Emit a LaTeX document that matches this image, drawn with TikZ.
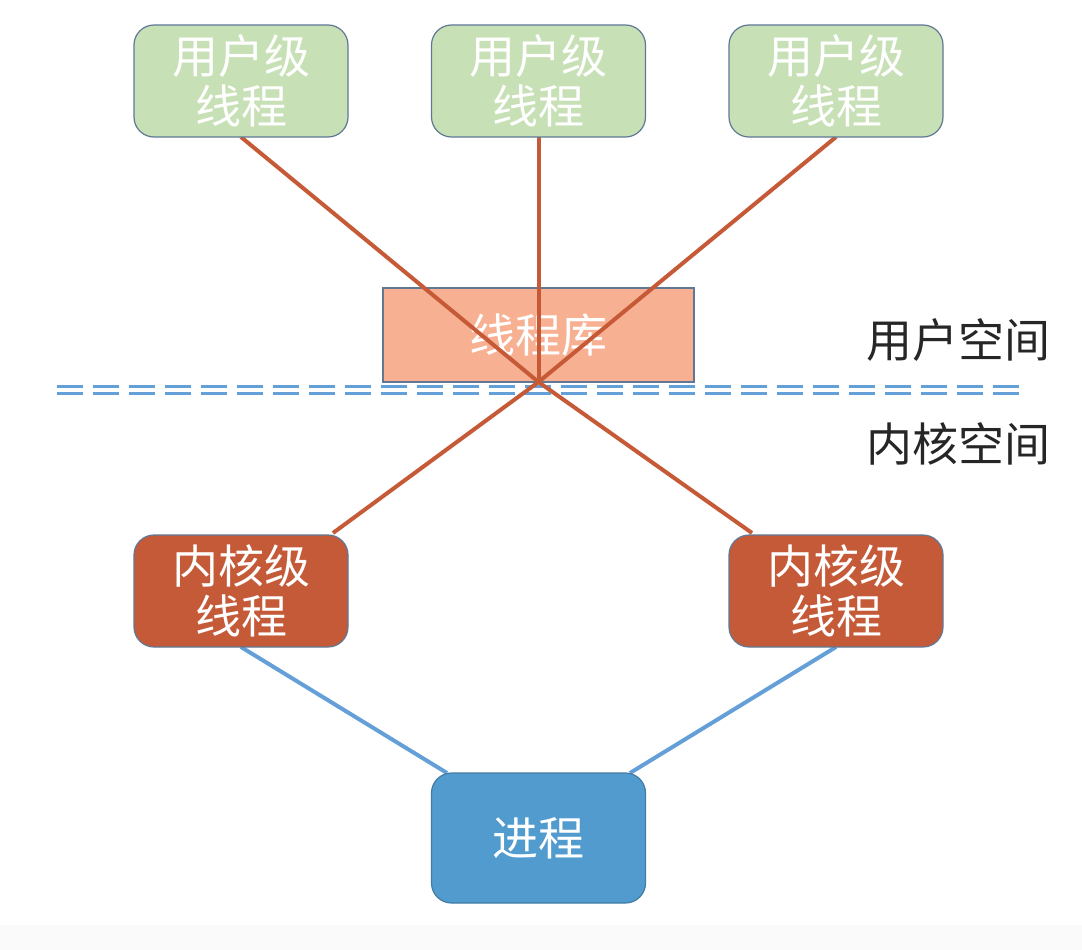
\documentclass[tikz,border=0pt]{standalone}
\usepackage{fontspec}
\setmainfont{Noto Sans CJK SC}
\definecolor{ugreen}{RGB}{199,224,182}
\definecolor{uborder}{RGB}{96,120,150}
\definecolor{libfill}{RGB}{248,176,146}
\definecolor{kred}{RGB}{196,90,56}
\definecolor{pblue}{RGB}{82,155,206}
\definecolor{lblue}{RGB}{100,160,215}
\definecolor{lorange}{RGB}{198,90,55}
\tikzset{
  box/.style={draw=uborder, line width=1.2pt, rounded corners=20pt, minimum width=214pt, minimum height=112pt, align=center, text=white, font=\fontsize{46}{50}\selectfont, inner sep=0pt},
  ubox/.style={box, fill=ugreen},
  kbox/.style={box, fill=kred},
  pbox/.style={box, fill=pblue, minimum height=130pt, draw=pblue!80!black},
  libbox/.style={draw=uborder, line width=1.2pt, fill=libfill, minimum width=311pt, minimum height=94pt, text=white, font=\fontsize{46}{50}\selectfont, inner sep=0pt},
  oline/.style={draw=lorange, line width=4pt},
  bline/.style={draw=lblue, line width=4pt},
  sep/.style={draw=lblue, line width=3pt, dash pattern=on 26pt off 10pt},
  lbl/.style={font=\fontsize{46}{50}\selectfont, text=black!85, inner sep=0pt},
}
\begin{document}
\begin{tikzpicture}[x=1pt,y=-1pt]
\useasboundingbox (0,0) rectangle (1082,950);
\fill[gray!4] (0,925) rectangle (1082,950);
% library
\node[libbox] (lib) at (538.5,335) {线程库};
% separator
\coordinate (sl1) at (57,386); \coordinate (sr1) at (1022,386);
\coordinate (sl2) at (57,393); \coordinate (sr2) at (1022,393);
\draw[sep] (sl1) -- (sr1);
\draw[sep] (sl2) -- (sr2);
% labels
\node[lbl] (us) at (958,340) {用户空间};
\node[lbl] (ks) at (958,444) {内核空间};
% crossing point and attach points
\coordinate (x) at (538.5,382);
\coordinate (u1a) at (241,137);
\coordinate (u2a) at (538.5,137);
\coordinate (u3a) at (836,137);
\coordinate (k1a) at (333,533);
\coordinate (k2a) at (752,533);
\coordinate (k1b) at (241,647);
\coordinate (k2b) at (836,647);
\coordinate (pa) at (447,773);
\coordinate (pb) at (630,773);
% connectors (under boxes)
\draw[oline] (u1a) -- (x);
\draw[oline] (u2a) -- (x);
\draw[oline] (u3a) -- (x);
\draw[oline] (x) -- (k1a);
\draw[oline] (x) -- (k2a);
\draw[bline] (k1b) -- (pa);
\draw[bline] (k2b) -- (pb);
% nodes
\node[ubox] (u1) at (241,81) {用户级\\线程};
\node[ubox] (u2) at (538.5,81) {用户级\\线程};
\node[ubox] (u3) at (836,81) {用户级\\线程};
\node[kbox] (k1) at (241,591) {内核级\\线程};
\node[kbox] (k2) at (836,591) {内核级\\线程};
\node[pbox] (p) at (538.5,838) {进程};
\end{tikzpicture}
\end{document}
